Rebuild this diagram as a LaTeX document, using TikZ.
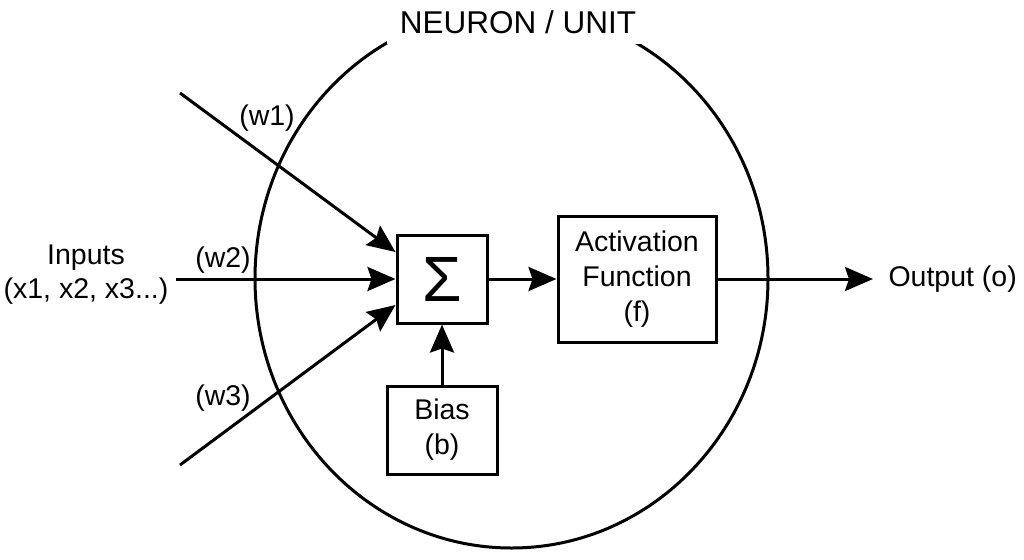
\documentclass[tikz,border=0pt]{standalone}
\usepackage{fontspec}
\setmainfont{Liberation Sans}
\usetikzlibrary{arrows.meta, positioning}

\begin{document}
\begin{tikzpicture}[x=1pt, y=-1pt, line width=3pt,
   >={Stealth[length=28pt, width=24pt, inset=4pt]},
   block/.style={draw, fill=white, align=center, inner sep=0pt, font=\fontsize{28.5}{35}\selectfont},
   wlabel/.style={inner sep=0pt, font=\fontsize{28.5}{34}\selectfont}]
   \useasboundingbox (0,0) rectangle (1024,559);

   % the unit
   \draw (511.5,278.5) ellipse [x radius=256.5pt, y radius=269.5pt];
   \node[fill=white, minimum width=262pt, minimum height=45pt, inner sep=0pt, font=\fontsize{31.5}{36}\selectfont] (title) at (518,22) {NEURON / UNIT};

   \node[block, minimum width=90pt, minimum height=88pt] (sum) at (442,279) {\fontsize{64}{64}\selectfont Σ};
   \node[block, minimum width=158pt, minimum height=126pt] (act) [right=68pt of sum] {Activation\\Function\\(f)};
   \node[block, minimum width=110pt, minimum height=88pt] (bias) [below=60pt of sum] {Bias\\(b)};

   % inputs and weights
   \node[wlabel, align=center] (inputs) at (86,275) {Inputs\\(x1, x2, x3...)};
   \coordinate (x1) at (180,93);
   \coordinate (x2) at (176,279);
   \coordinate (x3) at (180,465);
   \node[wlabel] (w1) at (267,118) {(w1)};
   \node[wlabel] (w2) at (223,260) {(w2)};
   \node[wlabel] (w3) at (223,398) {(w3)};

   \node[wlabel, anchor=west] (out) at (887,279) {Output (o)};

   \path[->] (x1) edge ([yshift=27pt]sum.west);
   \path[->] (x2) edge (sum.west);
   \path[->] (x3) edge ([yshift=-26pt]sum.west);
   \path[->] (sum) edge (act);
   \path[->] (bias) edge (sum);
   \path[->] (act) edge ([xshift=-14pt]out.west);
\end{tikzpicture}
\end{document}
